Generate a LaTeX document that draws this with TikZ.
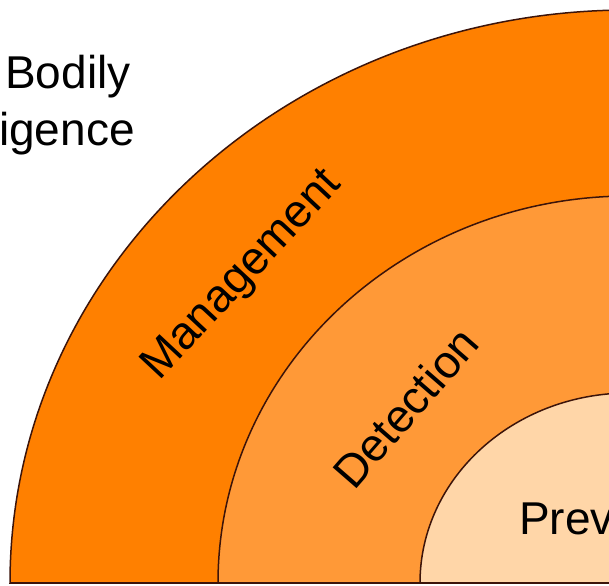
\documentclass[tikz,border=0pt]{standalone}
\usepackage{fontspec}
\setmainfont{Liberation Sans}
\usetikzlibrary{positioning}
\definecolor{outerband}{RGB}{255,128,0}
\definecolor{middleband}{RGB}{255,153,55}
\definecolor{innerband}{RGB}{255,214,168}
\definecolor{rim}{RGB}{60,20,10}
\tikzstyle{band} = [draw=rim, line width=1.5pt]
\tikzstyle{ringtext} = [font=\fontsize{46}{54}\selectfont, inner sep=0pt, anchor=base west]

\begin{document}
\begin{tikzpicture}[x=1pt,y=1pt]
    \useasboundingbox (0,0) rectangle (609,585);
    \clip (0,0) rectangle (609,585);
    % We start by drawing the bands, the outermost one first
    \coordinate (outerfoot) at (10,2);
    \coordinate (middlefoot) at (218,2);
    \coordinate (innerfoot) at (420,2);
    \draw [band, fill=outerband] (outerfoot) arc[start angle=180, end angle=0, x radius=619pt, y radius=573pt] -- cycle;
    \draw [band, fill=middleband] (middlefoot) arc[start angle=180, end angle=0, x radius=411pt, y radius=387pt] -- cycle;
    \draw [band, fill=innerband] (innerfoot) arc[start angle=180, end angle=0, x radius=209pt, y radius=190pt] -- cycle;
    % the ground line
    \coordinate (groundend) at (620,2);
    \draw [rim, line width=2.8pt] (outerfoot) -- (groundend);

    % Once the bands are placed, the texts go on top
    \node [ringtext] (bodily) at (5,496) {Bodily};
    \node [ringtext] (igence) at (-1,439) {igence};
    \node [ringtext, rotate=47] (management) at (159,203) {Management};
    \node [ringtext, rotate=49] (detection) at (354,93) {Detection};
    \node [ringtext] (prevention) at (519,50) {Prev};
\end{tikzpicture}
\end{document}
